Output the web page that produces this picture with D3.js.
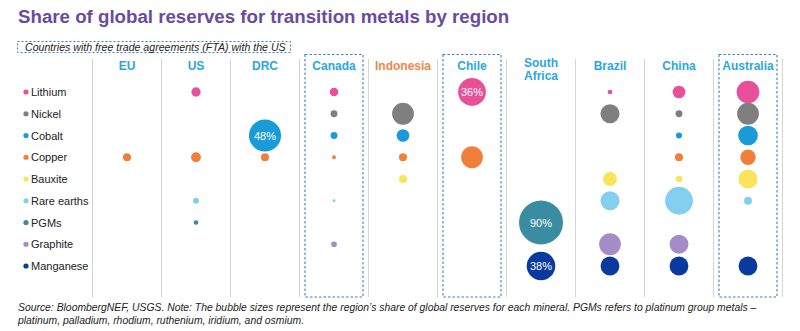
<!DOCTYPE html>
<html><head><meta charset="utf-8">
<script src="https://cdn.jsdelivr.net/npm/d3@7"></script>
<style>body{margin:0;background:#fff;font-family:"Liberation Sans",Arial,sans-serif;}</style>
</head><body><svg id="c" width="800" height="331"></svg>
<script>
const regions = ["EU","US","DRC","Canada","Indonesia","Chile","South Africa","Brazil","China","Australia"];
const ftaRegions = ["Canada","Chile","Australia"];
const minerals = ["Lithium","Nickel","Cobalt","Copper","Bauxite","Rare earths","PGMs","Graphite","Manganese"];
const mineralColors = ["#E8509A","#7F7F7F","#1A9BD7","#F07F3C","#F9E45B","#84CFEF","#3A8CA0","#A48DC6","#0A3A9E"];
// share of global reserves (%) per mineral, in region order
const lithium    = [null,4,null,3.5,null,36,null,1,7.5,24];
const nickel     = [null,null,null,2.2,22,null,null,17,2.2,22];
const cobalt     = [null,null,48,2.2,7.5,null,null,null,1.7,18];
const copper     = [3,4.5,3,0.7,3,22,null,null,3,11];
const bauxite    = [null,null,null,null,3,null,null,9,2,17];
const rareEarths = [null,1.7,null,0.4,null,null,null,17,36,3];
const pgms       = [null,1,null,null,null,null,90,null,null,null];
const graphite   = [null,null,null,1.5,null,null,null,22,16.5,null];
const manganese  = [null,null,null,null,null,null,38,16.5,16.5,16.5];
const labeled = [["Cobalt","DRC"],["Lithium","Chile"],["PGMs","South Africa"],["Manganese","South Africa"]];
const seriesValues = [lithium,nickel,cobalt,copper,bauxite,rareEarths,pgms,graphite,manganese];

const svg = d3.select("#c");
const x = d3.scaleBand().domain(regions).range([92.5,782.5]);
const y = d3.scalePoint().domain(minerals).range([92,266]);
const r = d3.scaleSqrt().domain([0,90]).range([0,22]);
const color = d3.scaleOrdinal().domain(minerals).range(mineralColors);

// title
svg.append("text").attr("x",18).attr("y",23).text("Share of global reserves for transition metals by region")
  .attr("font-size",18.7).attr("font-weight","bold").attr("fill","#6A4BA0");

// FTA box
svg.append("rect").attr("x",17.5).attr("y",41.5).attr("width",273).attr("height",11)
  .attr("fill","none").attr("stroke","#3D7FBF").attr("stroke-dasharray","2,2");
svg.append("text").attr("x",25).attr("y",50.5).text("Countries with free trade agreements (FTA) with the US")
  .attr("font-size",10.6).attr("font-style","italic").attr("fill","#222");

// separators
const seps = regions.map(d=>x(d)).concat([x.range()[1]]);
svg.selectAll("line.sep").data(seps).join("line").attr("class","sep")
  .attr("x1",d=>d).attr("x2",d=>d).attr("y1",59).attr("y2",297)
  .attr("stroke","#d4d4d4").attr("stroke-width",1);

// FTA column boxes
svg.selectAll("rect.fta").data(ftaRegions).join("rect").attr("class","fta")
  .attr("x",d=>x(d)+5.5).attr("y",54.5).attr("width",x.bandwidth()-11).attr("height",242.5)
  .attr("fill","none").attr("stroke","#3D7FBF").attr("stroke-width",1.1).attr("stroke-dasharray","2.5,2");

// headers
const hdr = svg.selectAll("text.hdr").data(regions).join("text").attr("class","hdr")
  .attr("x",d=>x(d)+x.bandwidth()/2).attr("text-anchor","middle")
  .attr("font-size",12).attr("font-weight","bold")
  .attr("fill",d=>d==="Indonesia"?"#F0874A":"#2BA8D9");
hdr.each(function(d){
  const t=d3.select(this);
  if(d==="South Africa"){
    t.append("tspan").attr("x",x(d)+x.bandwidth()/2).attr("y",67).text("South");
    t.append("tspan").attr("x",x(d)+x.bandwidth()/2).attr("y",80).text("Africa");
  } else t.attr("y",70).text(d);
});

// legend rows
const leg = svg.selectAll("g.leg").data(minerals).join("g").attr("class","leg")
  .attr("transform",d=>`translate(0,${y(d)})`);
leg.append("circle").attr("cx",26).attr("r",2.6).attr("fill",d=>color(d));
leg.append("text").attr("x",31).attr("y",4).text(d=>d).attr("font-size",11).attr("fill","#222");

// bubbles
const pts=[];
minerals.forEach((m,i)=>regions.forEach((g,j)=>{const v=seriesValues[i][j]; if(v!=null) pts.push({m,g,v});}));
svg.selectAll("circle.b").data(pts).join("circle").attr("class","b")
  .attr("cx",d=>x(d.g)+x.bandwidth()/2).attr("cy",d=>y(d.m)).attr("r",d=>r(d.v))
  .attr("fill",d=>color(d.m));
svg.selectAll("text.pl").data(pts.filter(d=>labeled.some(l=>l[0]===d.m&&l[1]===d.g))).join("text").attr("class","pl")
  .attr("x",d=>x(d.g)+x.bandwidth()/2).attr("y",d=>y(d.m)+4).attr("text-anchor","middle")
  .attr("font-size",11).attr("fill","#fff").text(d=>d.v+"%");

// source
const src = svg.append("text").attr("font-size",10.38).attr("font-style","italic").attr("fill","#222");
src.append("tspan").attr("x",18).attr("y",311).text("Source: BloombergNEF, USGS. Note: The bubble sizes represent the region\u2019s share of global reserves for each mineral. PGMs refers to platinum group metals \u2013");
src.append("tspan").attr("x",18).attr("y",324).text("platinum, palladium, rhodium, ruthenium, iridium, and osmium.");
</script></body></html>
